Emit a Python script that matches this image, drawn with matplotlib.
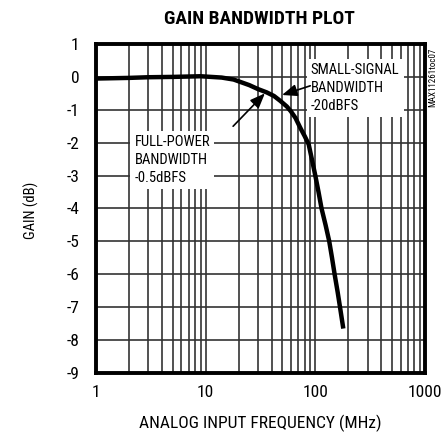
import numpy as np
import matplotlib.pyplot as plt
from matplotlib.ticker import FixedLocator, NullFormatter

plt.rcParams['font.family'] = ['Roboto Condensed', 'DejaVu Sans']
plt.rcParams['axes.unicode_minus'] = False

# curve (MHz, dB)
freq = [1, 2, 3, 5, 9, 14, 18, 25, 30, 36, 42, 48, 55, 60, 66, 73, 80, 87, 93, 100,
        107, 114, 124, 134, 142, 150, 160, 168, 180]
gain = [-0.05, -0.03, -0.01, 0.0, 0.02, -0.02, -0.08, -0.25, -0.37, -0.47, -0.58, -0.73,
        -0.9, -1.05, -1.25, -1.55, -1.8, -2.05, -2.5, -3.0,
        -3.5, -4.0, -4.5, -5.0, -5.5, -6.0, -6.55, -7.0, -7.65]

xticks = [1, 10, 100, 1000]
xlabels = ["1", "10", "100", "1000"]
yticks = list(range(-9, 2))

fig = plt.figure(figsize=(4.45, 4.34), dpi=100)
ax = fig.add_axes([0.2157, 0.1406, 0.7393, 0.758])

ax.set_xscale("log")
ax.set_xlim(1, 1000)
ax.set_ylim(-9, 1)

# grid: every integer dB, every 1-2-..-9 step in frequency
minor = [m * d for d in [1, 10, 100] for m in range(2, 10)]
ax.xaxis.set_major_locator(FixedLocator(xticks))
ax.xaxis.set_minor_locator(FixedLocator(minor))
ax.xaxis.set_minor_formatter(NullFormatter())
ax.set_xticklabels(xlabels)
ax.set_yticks(yticks)
ax.grid(True, which="both", axis="x", color="#333333", lw=1.2)
ax.grid(True, which="major", axis="y", color="#333333", lw=1.2)
ax.tick_params(which="both", length=0, labelsize=12.5)
ax.tick_params(axis="y", pad=12)
ax.tick_params(axis="x", pad=9)

for sp in ax.spines.values():
    sp.set_linewidth(2.8)

ax.plot(freq, gain, color="black", lw=3.2, solid_capstyle="butt", zorder=3)

# annotations
box_kw = dict(fontsize=10.5, va="top", ha="left", linespacing=1.35, zorder=4,
              bbox=dict(facecolor="white", edgecolor="none", pad=3))
arrow_kw = dict(arrowstyle="-|>,head_length=0.75,head_width=0.3", color="black",
                lw=1.2, shrinkA=0, shrinkB=0, mutation_scale=12)

ax.text(91, 0.42, "SMALL-SIGNAL\nBANDWIDTH\n-20dBFS", **box_kw)
ax.annotate("", xy=(49.7, -0.55), xytext=(90, -0.27), arrowprops=arrow_kw, zorder=5)

ax.text(2.25, -1.78, "FULL-POWER\nBANDWIDTH\n-0.5dBFS", **box_kw)
ax.annotate("", xy=(34.7, -0.5), xytext=(17.8, -1.5), arrowprops=arrow_kw, zorder=5)

ax.set_xlabel("ANALOG INPUT FREQUENCY (MHz)", fontsize=12.5, va="center")
ax.xaxis.set_label_coords(0.498, -0.152)
ax.set_ylabel("GAIN (dB)", fontsize=10.5, va="center")
ax.yaxis.set_label_coords(-0.198, 0.495)

fig.text(0.583, 0.956, "GAIN BANDWIDTH PLOT", ha="center", va="center",
         fontsize=14, fontweight=900)
fig.text(0.973, 0.823, "MAX11261toc07", rotation=90, ha="center", va="center",
         fontsize=6.5)

fig.savefig("out.png", dpi=100)
